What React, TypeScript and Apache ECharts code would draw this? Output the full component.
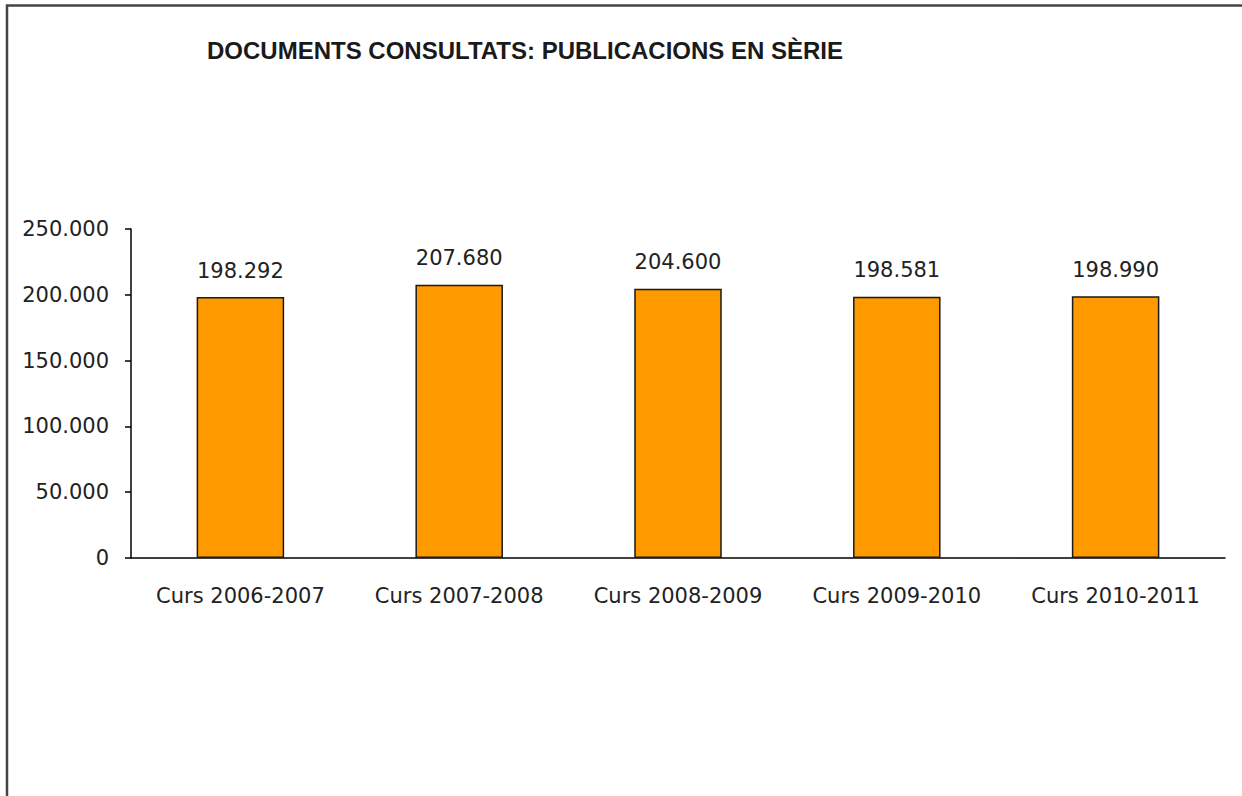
import React, { useEffect, useRef } from "react";
import * as echarts from "echarts";

const titleText = "DOCUMENTS CONSULTATS: PUBLICACIONS EN SÈRIE";
const categories = [
  "Curs 2006-2007",
  "Curs 2007-2008",
  "Curs 2008-2009",
  "Curs 2009-2010",
  "Curs 2010-2011",
];
const values = [198292, 207680, 204600, 198581, 198990];
const yMin = 0;
const yMax = 250000;
const yInterval = 50000;

const fmt = (v: number) => {
  const s = Math.round(v).toString();
  return s.replace(/\B(?=(\d{3})+(?!\d))/g, ".");
};

export default function App() {
  const ref = useRef<HTMLDivElement>(null);
  useEffect(() => {
    if (!ref.current) return;
    const chart = echarts.init(ref.current, undefined, { renderer: "svg" });
    const textStyle = {
      fontFamily: "DejaVu Sans",
      fontSize: 21,
      color: "#222",
    };
    chart.setOption({
      animation: false,
      backgroundColor: "#fff",
      title: {
        text: titleText,
        left: 520,
        top: 33,
        textAlign: "center",
        textStyle: {
          fontFamily: "Liberation Sans",
          fontWeight: "bold",
          fontSize: 24,
          color: "#1a1a1a",
        },
      },
      graphic: [
        {
          type: "rect",
          shape: { x: 7, y: 5.5, width: 1300, height: 900 },
          style: { fill: "none", stroke: "#444", lineWidth: 2.5 },
          silent: true,
        },
      ],
      grid: { left: 131, right: 17, top: 229, bottom: 238 },
      xAxis: {
        type: "category",
        data: categories,
        axisLine: { lineStyle: { color: "#000", width: 1.5 } },
        axisTick: { show: false },
        axisLabel: { ...textStyle, margin: 27, interval: 0 },
      },
      yAxis: {
        type: "value",
        min: yMin,
        max: yMax,
        interval: yInterval,
        splitLine: { show: false },
        axisLine: { show: true, lineStyle: { color: "#000", width: 1.5 } },
        axisTick: { show: true, length: 6, lineStyle: { color: "#000", width: 1.5 } },
        axisLabel: { ...textStyle, margin: 22, formatter: (v: number) => fmt(v) },
      },
      series: [
        {
          type: "bar",
          data: values,
          barWidth: "40%",
          itemStyle: { color: "#FF9900", borderColor: "#1a1a1a", borderWidth: 1.5 },
          label: {
            show: true,
            position: "top",
            distance: 16,
            ...textStyle,
            formatter: (p: any) => fmt(p.value),
          },
        },
      ],
    });
    return () => chart.dispose();
  }, []);
  return (
    <div
      ref={ref}
      style={{ position: "absolute", left: 0, top: 0, width: 1242, height: 796 }}
    />
  );
}
